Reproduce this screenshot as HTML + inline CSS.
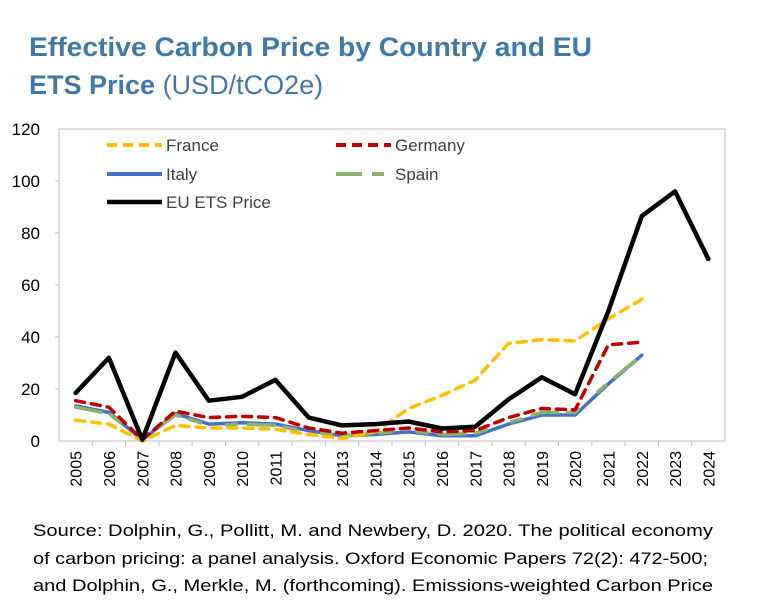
<!DOCTYPE html>
<html><head><meta charset="utf-8"><style>
html,body{margin:0;padding:0;background:#fff;}
svg{display:block;font-family:"Liberation Sans",sans-serif;}
</style></head><body>
<svg id="chart" width="757" height="616" viewBox="0 0 757 616">
<text x="29" y="56" font-size="27" font-weight="bold" fill="#4178AA" textLength="563" lengthAdjust="spacingAndGlyphs">Effective Carbon Price by Country and EU</text>
<text x="29" y="94" font-size="27" fill="#4178AA"><tspan font-weight="bold">ETS Price</tspan> (USD/tCO2e)</text>
<rect x="59" y="129" width="666" height="312" fill="none" stroke="#BFBFBF" stroke-width="1"/>
<g id="yaxis"></g>
<g id="xaxis"></g>
<g id="series"></g>
<g font-size="17" fill="#404040">
 <g><line x1="107" y1="145" x2="162" y2="145" stroke="#FFC000" stroke-width="4" stroke-dasharray="10,6"/><text x="166" y="151">France</text></g>
 <g><line x1="336" y1="145" x2="391" y2="145" stroke="#C00000" stroke-width="4" stroke-dasharray="10,6"/><text x="395" y="151">Germany</text></g>
 <g><line x1="107" y1="174" x2="162" y2="174" stroke="#4472C4" stroke-width="4"/><text x="166" y="180">Italy</text></g>
 <g><line x1="336" y1="174" x2="391" y2="174" stroke="#8DB26F" stroke-width="4" stroke-dasharray="26,10,12"/><text x="395" y="180">Spain</text></g>
 <g><line x1="107" y1="202" x2="162" y2="202" stroke="#000" stroke-width="4.5"/><text x="166" y="208">EU ETS Price</text></g>
</g>
<g font-size="16.5" fill="#000">
<text x="33" y="536" textLength="680" lengthAdjust="spacingAndGlyphs">Source: Dolphin, G., Pollitt, M. and Newbery, D. 2020. The political economy</text>
<text x="33" y="564" textLength="675" lengthAdjust="spacingAndGlyphs">of carbon pricing: a panel analysis. Oxford Economic Papers 72(2): 472-500;</text>
<text x="33" y="591" textLength="680" lengthAdjust="spacingAndGlyphs">and Dolphin, G., Merkle, M. (forthcoming). Emissions-weighted Carbon Price</text>
</g>
</svg>
<script>
const years = ["2005","2006","2007","2008","2009","2010","2011","2012","2013","2014","2015","2016","2017","2018","2019","2020","2021","2022","2023","2024"];
const yTicks = [0,20,40,60,80,100,120];
const franceValues = [8,6.5,0,6,5,5,4.5,2.5,1,3.5,12.5,17.5,23.5,37.5,39,38.5,47,54.5];
const germanyValues = [15.5,13,0.5,11.5,9,9.5,9,5,3,4,5,3.5,4,9,12.5,12,37,38];
const italyValues = [13.5,11,0.5,10.5,6.5,7,6.5,4,2,2.5,3.5,2,2,6.5,10,10,22,33];
const spainValues = [13,10.5,0.5,10,6,6.5,6,3.5,2,3,4,2.5,3,7,11,11,22.5,33];
const etsValues = [18.5,32,0.5,34,15.5,17,23.5,9,6,6.5,7.5,4.8,5.5,16,24.5,18,50,86.5,96,70];

const L=59,R=725,T=129,B=441,YMAX=120;
const NS="http://www.w3.org/2000/svg";
const slot=(R-L)/years.length;
function xPos(i){return L+slot*(i+0.5);}
function yPos(v){return B-(v/YMAX)*(B-T);}
function mk(tag,attrs,parent){const e=document.createElementNS(NS,tag);for(const k in attrs)e.setAttribute(k,attrs[k]);parent.appendChild(e);return e;}

const ya=document.getElementById('yaxis');
yTicks.forEach(v=>{
  const t=mk('text',{x:40,y:yPos(v)+6,'text-anchor':'end','font-size':17,fill:'#000'},ya);
  
  
  t.textContent=v;
  if(v>0&&v<YMAX){const tk=mk('line',{x1:L-4,x2:L,y1:yPos(v),y2:yPos(v),stroke:'#BFBFBF'},ya);
  
  }
});
const xa=document.getElementById('xaxis');
years.forEach((y,i)=>{
  if(i>0){const tk=mk('line',{x1:L+slot*i,x2:L+slot*i,y1:B,y2:B+5,stroke:'#BFBFBF'},xa);
  
  }
  const x=xPos(i)+6;
  const t=mk('text',{x:x,y:B+10,'text-anchor':'end','font-size':16,fill:'#000',transform:`rotate(-90 ${x} ${B+10})`},xa);
  
  
  t.textContent=y;
});
const sg=document.getElementById('series');
function line(vals,color,w,dash,name){
  const pts=vals.map((v,i)=>xPos(i).toFixed(1)+','+yPos(v).toFixed(1)).join(' ');
  const p=mk('polyline',{points:pts,fill:'none',stroke:color,'stroke-width':w,'stroke-linejoin':'round','stroke-linecap':'round'},sg);
  if(dash)p.setAttribute('stroke-dasharray',dash);
  
  
}
line(italyValues,'#4472C4',3.5,null,'italy-line');
line(spainValues,'#8DB26F',3.5,'26,10,12','spain-line');
line(franceValues,'#FFC000',3.5,'9,7','france-line');
line(germanyValues,'#C00000',3.5,'9,7','germany-line');
line(etsValues,'#000000',4.5,null,'eu-ets-line');
</script>
</body></html>
